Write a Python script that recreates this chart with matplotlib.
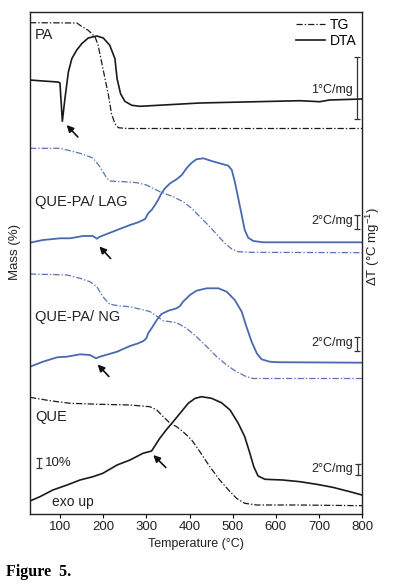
import matplotlib
matplotlib.use("Agg")
import matplotlib.pyplot as plt

plt.rcParams['font.family'] = ['Liberation Sans', 'DejaVu Sans']

# ---------------- data (temperature in °C, signal in stacked plot units) -------------
pa_tg_T = [30, 139, 146, 165, 181, 188, 196, 204, 212, 219, 227, 235, 254, 800]
pa_tg_v = [491.3, 491, 488.7, 483.7, 477, 468.7, 452, 435.3, 418.7, 400.3, 390.3, 386.3, 385.5, 385.5]
pa_dta_T = [30, 60, 95, 99.5, 105, 111, 119, 127, 138, 150, 165, 185, 200, 215, 227, 232, 240, 250, 266, 285, 424, 656, 702, 725, 800]
pa_dta_v = [434, 433, 432, 431, 392.7, 415.3, 442, 455.3, 463.7, 470.3, 476, 478, 476, 468.7, 455.3, 435.3, 420.3, 412.7, 408.7, 407.7, 411, 413.3, 412.3, 414, 415]

lag_tg_T = [30, 100, 116, 146, 176, 192, 208, 215, 246, 278, 300, 331, 362, 385, 405, 424, 443, 463, 482, 498, 513, 540, 800]
lag_tg_v = [365.7, 365.7, 364, 360.7, 356, 347.3, 336, 333, 332.3, 331.3, 329, 322.3, 317.3, 312.3, 305.7, 297.3, 289, 279.7, 270.7, 265, 262.3, 261.7, 261.3]
lag_dta_T = [30, 60, 100, 123, 153, 176, 185, 192, 232, 262, 281, 297, 304, 312, 320, 327, 335, 343, 355, 370, 382, 393, 405, 416, 432, 451, 470, 490, 498, 505, 513, 521, 528, 536, 548, 571, 800]
lag_dta_v = [271.3, 274, 275.7, 275.7, 278, 278, 275.3, 277.3, 284, 289, 291.7, 295, 300.7, 304, 309, 314, 320.7, 325.7, 330.7, 334.7, 339, 345.7, 351.3, 354.7, 355.7, 353, 350.7, 348.3, 344, 332.3, 315.7, 299, 284, 276.3, 273, 271.7, 271.7]

ng_tg_T = [30, 116, 146, 169, 185, 199, 215, 239, 262, 308, 339, 370, 393, 416, 440, 463, 486, 509, 532, 548, 800]
ng_tg_v = [240, 239, 235.7, 232.3, 227.3, 217.3, 209.7, 208, 207.3, 202.5, 193.3, 191.3, 185.7, 177.3, 167.3, 157.3, 149, 142.3, 137.3, 135.5, 135.5]
ng_dta_T = [30, 60, 93, 116, 146, 169, 183, 192, 232, 262, 281, 293, 300, 304, 312, 324, 335, 351, 370, 378, 385, 401, 416, 440, 467, 486, 505, 521, 532, 544, 556, 567, 586, 603, 800]
ng_dta_v = [147.3, 152.3, 156.7, 157.3, 159.7, 159, 155.7, 157.3, 162.3, 168, 170.7, 173, 175.7, 180.7, 185.7, 194, 200, 203.3, 205.7, 208, 212.3, 219, 223.3, 225.7, 225.7, 222.3, 214, 202.3, 187.3, 172.3, 160.7, 154.7, 152.3, 151.8, 151.3]

que_tg_T = [30, 76, 123, 192, 262, 308, 324, 339, 355, 370, 385, 405, 424, 447, 470, 494, 509, 528, 556, 656, 800]
que_tg_v = [116.7, 113.3, 110.7, 109.7, 109, 107.3, 104, 97.3, 90.7, 87.3, 82.3, 74, 62.3, 47.3, 34, 22.3, 15.7, 10.7, 9, 9, 8.3]
que_dta_T = [30, 53, 83, 116, 146, 176, 199, 232, 262, 292, 312, 331, 347, 359, 378, 397, 413, 428, 451, 474, 494, 513, 528, 540, 549, 559, 575, 616, 656, 695, 732, 772, 800]
que_dta_v = [13, 17.3, 24, 29, 34, 37.3, 40.7, 49, 54, 60.7, 63, 75.7, 84.7, 90.7, 100.7, 110.7, 115.7, 117.3, 115.7, 111.3, 104, 90.7, 77.3, 60.7, 47.3, 38, 34.7, 34, 32.3, 29.7, 26.7, 22.3, 19]

xticks = [100, 200, 300, 400, 500, 600, 700, 800]

BLACK = '#1a1a1a'
BLUE = '#4a68b0'
BLUE_TG = '#5a72b5'
dashdot = (0, (5, 1.6, 1.1, 1.6))

fig = plt.figure(figsize=(3.94, 5.87), dpi=100)
ax = fig.add_axes([30/394, 1-514/587, 332/394, 502/587])

ax.plot(pa_tg_T, pa_tg_v, color=BLACK, lw=0.9, ls=dashdot, label='TG')
ax.plot(pa_dta_T, pa_dta_v, color=BLACK, lw=1.2, label='DTA')
ax.plot(lag_tg_T, lag_tg_v, color=BLUE_TG, lw=0.9, ls=dashdot)
ax.plot(lag_dta_T, lag_dta_v, color=BLUE, lw=1.3)
ax.plot(ng_tg_T, ng_tg_v, color=BLUE_TG, lw=0.9, ls=dashdot)
ax.plot(ng_dta_T, ng_dta_v, color=BLUE, lw=1.3)
ax.plot(que_tg_T, que_tg_v, color=BLACK, lw=0.9, ls=dashdot)
ax.plot(que_dta_T, que_dta_v, color=BLACK, lw=1.2)

ax.set_xlim(30, 800)
ax.set_ylim(0, 502)
ax.set_xticks(xticks)
ax.set_xticklabels([str(t) for t in xticks], fontsize=9.5, color='#222222')
ax.tick_params(axis='x', direction='out', length=3, width=0.8, pad=2)
ax.set_yticks([])
for s in ax.spines.values():
    s.set_linewidth(1.0)
    s.set_color('#222222')
ax.set_xlabel('Temperature (°C)', fontsize=9, color='#222222', labelpad=4)

leg = ax.legend(loc='upper right', frameon=False, fontsize=10, handlelength=2.1,
                handletextpad=0.35, labelspacing=0.2, borderaxespad=0.2, borderpad=0.2)

# panel labels
tkw = dict(fontsize=10.5, color='#222222', va='center', ha='left')
ax.text(41.6, 479, 'PA', **tkw)
ax.text(41.6, 312.3, 'QUE-PA/ LAG', **tkw)
ax.text(41.6, 197.3, 'QUE-PA/ NG', **tkw)
ax.text(41.6, 96.7, 'QUE', **tkw)

# scale bars
def sbar(x, y0, y1):
    ax.errorbar([x], [(y0+y1)/2], yerr=[(y1-y0)/2], color='#333333', lw=0.9,
                capsize=2.5, capthick=0.9)

sbar(788, 395, 457)
ax.text(779, 424, '1°C/mg', fontsize=9, ha='right', va='center', color='#222222')
sbar(788, 284.7, 299)
ax.text(779, 293, '2°C/mg', fontsize=9, ha='right', va='center', color='#222222')
sbar(788, 163.3, 177.3)
ax.text(779, 171, '2°C/mg', fontsize=9, ha='right', va='center', color='#222222')
sbar(790, 39, 50)
ax.text(779, 44.7, '2°C/mg', fontsize=9, ha='right', va='center', color='#222222')
sbar(51, 46, 56)
ax.text(64.8, 50.7, '10%', fontsize=9.5, ha='left', va='center', color='#222222')
ax.text(81, 12.3, 'exo up', fontsize=10, ha='left', va='center', color='#222222')

# arrows
akw = dict(arrowstyle='-|>', color='#111111', lw=1.2, mutation_scale=10,
           shrinkA=0, shrinkB=0)
for (tx, ty, hx, hy) in [(141, 377, 115, 389), (217, 255.5, 191, 267.5),
                         (213, 137.5, 187, 149.5), (345, 46.5, 316, 59)]:
    ax.annotate('', xy=(hx, hy), xytext=(tx, ty), arrowprops=akw)

fig.text(15/394, 1-252/587, 'Mass (%)', rotation=90, ha='center', va='center',
         fontsize=9.5, color='#222222')
fig.text(373/394, 1-247/587, 'ΔT (°C mg$^{\\mathregular{-1}}$)', rotation=90,
         ha='center', va='center', fontsize=9.5, color='#222222')
fig.text(6/394, 1-572/587, 'Figure  5.', family=['Liberation Serif', 'DejaVu Serif'],
         fontweight='bold', fontsize=11.5, ha='left', va='center', color='black')

fig.savefig('out.png', dpi=100)
